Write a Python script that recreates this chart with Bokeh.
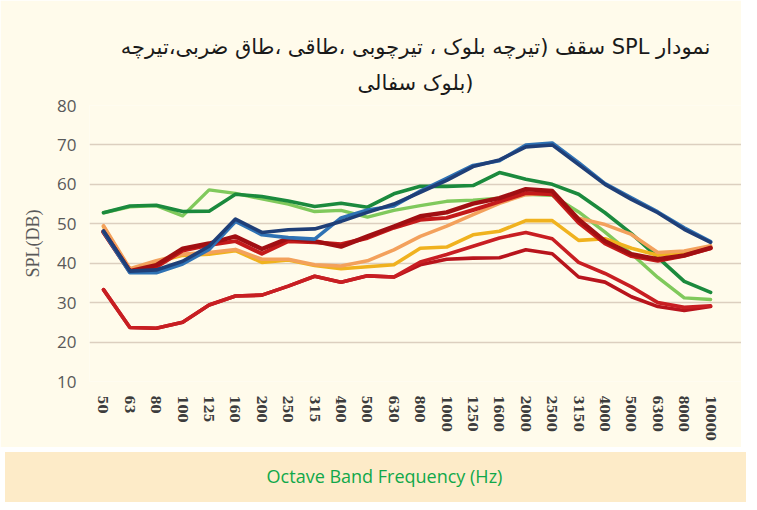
from bokeh.plotting import figure
from bokeh.models import Range1d, FixedTicker, Title, Div
from bokeh.layouts import column
from bokeh.embed import file_html
from bokeh.resources import INLINE

freqs = ["50", "63", "80", "100", "125", "160", "200", "250", "315", "400", "500", "630",
         "800", "1000", "1250", "1600", "2000", "2500", "3150", "4000", "5000", "6300", "8000", "10000"]

dark_green = [52.8, 54.5, 54.7, 53.1, 53.2, 57.5, 56.9, 55.8, 54.4, 55.2, 54.2, 57.6,
              59.5, 59.5, 59.7, 63.0, 61.3, 60.0, 57.5, 52.8, 47.5, 41.5, 35.4, 32.6]
light_green = [52.8, 54.3, 54.6, 52.0, 58.6, 57.7, 56.3, 55.0, 53.1, 53.4, 51.7, 53.4,
               54.6, 55.7, 56.0, 56.5, 57.5, 57.2, 53.0, 47.9, 42.4, 36.4, 31.2, 30.8]
navy = [48.2, 38.0, 38.3, 40.5, 44.3, 51.2, 47.8, 48.5, 48.7, 50.6, 52.9, 55.0,
        58.0, 61.0, 64.5, 66.2, 69.5, 70.0, 65.0, 60.0, 56.2, 52.8, 48.6, 45.3]
blue = [48.0, 37.6, 37.6, 39.8, 43.5, 50.6, 47.2, 46.5, 46.1, 51.5, 53.5, 54.5,
        58.3, 61.5, 64.8, 66.0, 70.0, 70.5, 65.5, 60.2, 56.6, 53.0, 49.0, 45.5]
maroon = [48.0, 38.0, 39.5, 43.7, 45.0, 46.8, 43.6, 46.3, 45.6, 44.2, 46.8, 49.3,
          51.9, 52.9, 55.1, 56.5, 58.8, 58.3, 51.1, 45.6, 42.3, 41.0, 42.0, 43.9]
red = [47.8, 37.8, 39.0, 43.2, 44.6, 45.6, 42.4, 45.6, 45.3, 44.8, 46.4, 49.0,
       51.0, 51.5, 53.5, 55.6, 57.8, 57.5, 50.3, 45.0, 41.8, 40.6, 41.9, 43.8]
salmon = [49.5, 38.6, 40.6, 42.3, 42.7, 43.5, 41.0, 41.0, 39.6, 39.3, 40.6, 43.4,
          46.8, 49.4, 52.3, 55.2, 57.4, 57.8, 51.4, 49.8, 47.3, 42.7, 43.1, 44.4]
gold = [49.3, 38.3, 40.3, 42.0, 42.3, 43.2, 40.2, 40.8, 39.4, 38.6, 39.1, 39.6,
        43.8, 44.1, 47.2, 48.1, 50.8, 50.8, 45.8, 46.2, 43.8, 42.0, 42.8, 44.1]
low_a = [33.3, 23.7, 23.5, 25.0, 29.4, 31.7, 31.9, 34.2, 36.7, 35.2, 36.8, 36.5,
         40.3, 42.2, 44.3, 46.4, 47.8, 46.2, 40.2, 37.4, 34.0, 30.0, 28.8, 29.2]
low_b = [33.3, 23.7, 23.5, 25.0, 29.4, 31.7, 31.9, 34.2, 36.7, 35.2, 36.8, 36.5,
         39.6, 41.0, 41.3, 41.4, 43.4, 42.4, 36.5, 35.2, 31.5, 29.0, 28.0, 29.0]

title_line1 = "\u202bنمودار SPL سقف (تیرچه بلوک ، تیرچوبی ،طاقی ،طاق ضربی،تیرچه\u202c"
title_line2 = "\u200eبلوک سفالی)\u200e"
y_label = "SPL(DB)"
x_label = "Octave Band Frequency (Hz)"

CREAM = "#fffbeb"
BAND = "#fdebc8"

xs = list(range(len(freqs)))

p = figure(width=741, height=447, output_backend="svg", toolbar_location=None,
           x_range=Range1d(-0.53, 24.17), y_range=Range1d(10, 80),
           min_border_left=89, min_border_right=0, min_border_top=105, min_border_bottom=66)
p.background_fill_color = CREAM
p.border_fill_color = CREAM
p.outline_line_color = None

series = [
    (light_green, "#80c95c", 3.4),
    (dark_green, "#1b8a3d", 3.6),
    (low_b, "#b8141c", 3.6),
    (low_a, "#c81e22", 3.6),
    (gold, "#f0b21e", 3.6),
    (salmon, "#f3a15c", 3.6),
    (red, "#c41a1a", 4.0),
    (maroon, "#a10f12", 4.4),
    (blue, "#2f72b4", 3.6),
    (navy, "#1f3f78", 3.6),
]
for vals, col, w in series:
    p.line(xs, vals, line_color=col, line_width=w, line_join="round", line_cap="round")

p.xgrid.grid_line_color = None
p.ygrid.grid_line_color = "#dccfbf"
p.ygrid.grid_line_width = 1.6
p.yaxis.ticker = FixedTicker(ticks=[10, 20, 30, 40, 50, 60, 70, 80])
p.yaxis.axis_line_color = None
p.yaxis.major_tick_line_color = None
p.yaxis.minor_tick_line_color = None
p.yaxis.major_label_text_font = "Open Sans"
p.yaxis.major_label_text_font_size = "17px"
p.yaxis.major_label_text_color = "#595959"
p.yaxis.major_label_standoff = 7
p.yaxis.axis_label = y_label
p.yaxis.axis_label_text_font = "Liberation Serif"
p.yaxis.axis_label_text_font_style = "normal"
p.yaxis.axis_label_text_font_size = "18px"
p.yaxis.axis_label_text_color = "#595959"
p.yaxis.axis_label_standoff = 11

p.xaxis.ticker = FixedTicker(ticks=xs)
p.xaxis.major_label_overrides = {i: f for i, f in enumerate(freqs)}
p.xaxis.major_label_orientation = "vertical"
p.xaxis.axis_line_color = None
p.xaxis.major_tick_line_color = None
p.xaxis.minor_tick_line_color = None
p.xaxis.major_label_text_font = "DejaVu Serif"
p.xaxis.major_label_text_font_style = "bold"
p.xaxis.major_label_text_font_size = "13px"
p.xaxis.major_label_text_color = "#3c3c3c"
p.xaxis.major_label_standoff = 8

p.add_layout(Title(text=title_line2, align="center", text_font="DejaVu Sans",
                   text_font_size="21px", text_font_style="normal", text_color="#1a1a1a",
                   standoff=21), "above")
p.add_layout(Title(text=title_line1, align="center", text_font="DejaVu Sans",
                   text_font_size="21px", text_font_style="normal", text_color="#1a1a1a",
                   standoff=0), "above")

band = Div(text=x_label, width=741, height=50,
           styles={"background-color": BAND, "color": "#10a84a", "font-family": "Open Sans",
                   "font-size": "18px", "display": "flex", "align-items": "center",
                   "justify-content": "center", "padding-left": "18px", "box-sizing": "border-box"})

layout = column(p, band, spacing=0)
open("out.html", "w").write(file_html(layout, INLINE))
